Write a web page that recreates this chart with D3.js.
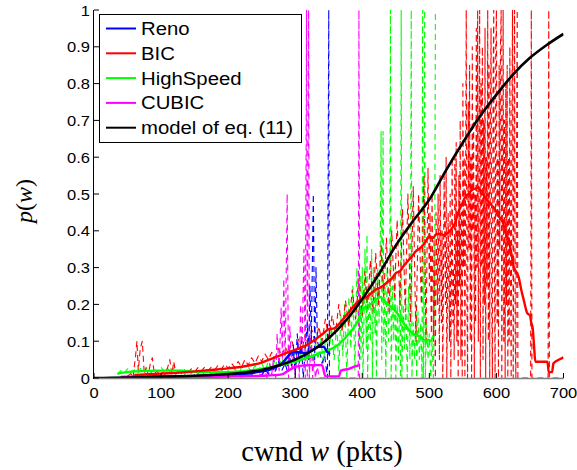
<!DOCTYPE html>
<html><head><meta charset="utf-8">
<script src="https://d3js.org/d3.v7.min.js"></script>
<style>body{margin:0;background:#fff}svg{display:block}</style>
</head><body>
<script>
// ---------- data ----------
const xTicks = [0,100,200,300,400,500,600,700];
const yTicks = [0,0.1,0.2,0.3,0.4,0.5,0.6,0.7,0.8,0.9,1];
const seriesNames = ["Reno","BIC","HighSpeed","CUBIC","model of eq. (11)"];
const seriesColors = ["#0000ff","#ff0000","#00ff00","#ff00ff","#000000"];

const modelW = [0,25,50,75,100,125,150,175,200,225,250,275,300,325,350,375,400,425,450,475,500,525,550,575,600,625,650,675,700];
const modelP = [0,0.0003,0.001,0.002,0.003,0.0045,0.006,0.008,0.011,0.015,0.022,0.034,0.05,0.074,0.108,0.155,0.215,0.283,0.36,0.425,0.485,0.565,0.64,0.71,0.77,0.825,0.87,0.905,0.935];

const renoSmooth = [[40,0.003],[100,0.004],[150,0.005],[200,0.008],[240,0.015],[265,0.025],[280,0.04],[290,0.06],[295,0.07],[305,0.07],[315,0.068],[325,0.075],[335,0.085],[342,0.085],[348,0.07],[352,0.065]];
const bicSmooth = [[60,0.008],[80,0.01],[100,0.012],[125,0.014],[150,0.018],[175,0.022],[200,0.026],[225,0.032],[250,0.042],[267,0.054],[290,0.07],[305,0.08],[318,0.09],[330,0.105],[340,0.118],[350,0.133],[358,0.135],[367,0.15],[375,0.168],[380,0.178],[385,0.19],[392,0.205],[400,0.215],[408,0.222],[414,0.232],[420,0.24],[426,0.245],[432,0.252],[438,0.262],[444,0.27],[450,0.285],[456,0.29],[462,0.305],[468,0.318],[474,0.33],[480,0.345],[486,0.352],[490,0.36],[494,0.37],[500,0.385],[505,0.38],[510,0.39],[516,0.392],[522,0.388],[528,0.395],[533,0.405],[538,0.42],[543,0.45],[548,0.47],[553,0.49],[558,0.5],[563,0.51],[569,0.515],[573,0.518],[576,0.51],[580,0.5],[584,0.49],[590,0.475],[595,0.465],[599,0.455],[603,0.44],[606,0.434],[610,0.42],[613,0.4],[617,0.38],[620,0.36],[623,0.33],[626,0.3],[629,0.29],[633,0.275],[637,0.24],[641,0.21],[646,0.176],[650,0.17],[652,0.15],[654,0.136],[656,0.09],[658,0.044],[676,0.044],[678,0.016],[683,0.016],[685,0.04],[698,0.054],[700,0.056]];
const hsSmooth = [[35,0.012],[60,0.018],[100,0.02],[130,0.02],[160,0.016],[200,0.016],[230,0.02],[260,0.028],[290,0.04],[318,0.055],[342,0.07],[355,0.08],[367,0.095],[380,0.12],[392,0.15],[402,0.19],[412,0.2],[420,0.212],[427,0.22],[435,0.205],[445,0.19],[452,0.176],[458,0.16],[465,0.14],[470,0.13],[476,0.12],[481,0.116],[487,0.112],[491,0.105],[495,0.1],[498,0.104],[501,0.1],[506,0.115]];
const cubicSmooth = [[40,0.002],[100,0.003],[150,0.003],[200,0.004],[250,0.006],[280,0.01],[290,0.02],[300,0.03],[320,0.035],[340,0.035],[345,0.005],[365,0.004],[368,0.02],[380,0.025],[390,0.032],[395,0.035]];

const renoRaw = [[40,0],[50,0.005],[60,0.002],[70,0.006],[80,0.001],[90,0.005],[100,0.002],[110,0.007],[120,0.002],[130,0.006],[140,0.003],[150,0.008],[160,0.003],[170,0.007],[180,0.004],[190,0.009],[200,0.004],[210,0.01],[220,0.006],[230,0.012],[240,0.01],[245,0.02],[250,0.005],[255,0.025],[260,0.01],[265,0.03],[270,0.015],[275,0.045],[280,0.02],[285,0.04],[288,0.02],[291,0.07],[294,0.03],[297,0.09],[300,0.01],[303,0.12],[306,0.04],[309,0.1],[312,0],[315,0.08],[318,0.15],[320,0.05],[322,0.25],[324,0.1],[327,0.5],[329,0.05],[331,0.3],[333,0.1],[336,0.08],[340,0.04],[344,0.06],[348,0],[350,1],[351,0]];
const bicRaw = [[50,0.005],[55,0.012],[58,0],[62,0.06],[64,0.1],[66,0.02],[69,0.08],[72,0.1],[75,0.01],[78,0.03],[81,0.008],[84,0.04],[87,0.055],[90,0.01],[94,0.02],[98,0.008],[102,0.015],[106,0.01],[110,0.03],[113,0.05],[116,0.01],[119,0.045],[122,0.01],[126,0.02],[130,0.012],[135,0.022],[140,0.014],[145,0.025],[150,0.016],[155,0.028],[160,0.018],[165,0.03],[170,0.02],[175,0.03],[180,0.022],[185,0.035],[190,0.024],[195,0.038],[200,0.026],[205,0.04],[210,0.028],[215,0.045],[220,0.03],[225,0.05],[230,0.035],[235,0.055],[240,0.04],[245,0.06],[250,0.045],[255,0.065],[260,0.05],[265,0.07],[270,0.055],[275,0.08],[280,0.06],[285,0.085],[290,0.065],[295,0.1],[300,0.07],[305,0.105],[310,0.075],[315,0.12],[320,0.085],[325,0.13],[330,0.09],[335,0.14],[340,0.1],[345,0.16],[350,0.11],[355,0.17],[360,0.12],[365,0.2],[370,0.13],[375,0.21],[380,0.14],[385,0.24],[390,0.16],[395,0.27],[400,0.17],[404,0.29],[408,0.19],[412,0.32],[416,0.18],[420,0.34],[424,0.2],[428,0.36],[432,0.22],[436,0.38],[440,0.18],[444,0.4],[448,0.22],[452,0.43],[456,0.2],[460,0.46],[464,0.18],[468,0.5],[472,0.15],[476,0.52],[480,0.1],[484,0.5],[488,0.2],[492,0.55],[495,0.1],[498,0.57],[500,0.25],[501,0.45],[503,0.12],[504,0.5],[506,0.1],[507,0.38],[509,0],[510,0.45],[512,0.2],[513,0.5],[515,0.05],[516,0.55],[518,0.15],[519,0.4],[520,0],[522,0.55],[524,0.2],[525,0.6],[526,0],[528,0.45],[530,0.1],[531,0.5],[532,0],[534,0.6],[535,0.15],[536,0.3],[537,0.05],[538,0.6],[539,0.2],[540,0.64],[541,0.1],[542,0.4],[543,0],[544,0.55],[545,0.25],[546,0.7],[547,0.05],[548,0.45],[549,0],[550,0.8],[551,0.3],[552,0.6],[553,0],[554,0.5],[555,1],[556,0.2],[557,0],[558,0.75],[559,0.35],[560,0.85],[561,0.1],[562,0.6],[563,0],[564,0.9],[565,0.4],[566,0.7],[567,0],[568,0.5],[569,0.15],[570,0.95],[571,0.3],[572,1],[573,0.1],[574,0.6],[575,1],[576,0],[577,0.8],[578,0.3],[579,0.9],[580,0.05],[581,0.7],[582,0.2],[583,0.95],[584,0],[585,0.6],[586,0.25],[587,1],[588,0.1],[589,0.85],[590,0],[591,0.7],[592,0.95],[593,0.2],[594,0],[595,0.8],[596,1],[597,0.3],[598,0],[599,0.9],[600,1],[601,0.15],[602,0.6],[603,0],[604,0.85],[605,0.35],[606,0.9],[607,1],[608,0],[609,0.5],[610,1],[611,0.1],[612,0.7],[613,0],[614,0.8],[615,0.2],[616,0.85],[617,0],[618,0.6],[619,0.1],[620,0.9],[621,0.3],[622,0],[623,0.7],[624,1],[625,0],[626,0.5],[627,1],[628,0.1],[629,0],[630,0.6],[631,1],[632,0],[651,0],[652,1],[653,0],[677,0],[678,1],[679,0],[700,0]];
const hsRaw = [[35,0.01],[40,0.02],[45,0.012],[50,0.025],[55,0.015],[60,0.022],[65,0.012],[70,0.028],[75,0.018],[80,0.03],[85,0.014],[90,0.025],[95,0.016],[100,0.03],[105,0.015],[110,0.026],[115,0.012],[120,0.03],[125,0.014],[130,0.024],[135,0.01],[140,0.022],[145,0.012],[150,0.02],[155,0.01],[160,0.022],[165,0.008],[170,0.02],[175,0.01],[180,0.018],[185,0.008],[190,0.022],[195,0.01],[200,0.02],[205,0.012],[210,0.025],[215,0.01],[220,0.028],[225,0.012],[230,0.03],[235,0.015],[240,0.035],[245,0.018],[250,0.04],[255,0.02],[260,0.045],[265,0.022],[270,0.05],[275,0.025],[280,0.055],[285,0.03],[290,0.06],[294,0.035],[298,0.07],[302,0.04],[306,0.075],[310,0.045],[314,0.085],[318,0.05],[322,0.09],[326,0.045],[330,0.1],[334,0.05],[338,0.11],[342,0.04],[346,0.12],[350,0.06],[354,0.14],[358,0.05],[362,0.15],[365,0.02],[368,0.17],[371,0.06],[374,0.2],[377,0],[380,0.22],[383,0.08],[386,0.25],[389,0.02],[392,0.3],[395,0.1],[397,0.28],[398,0.05],[400,0.3],[401,0],[403,0.2],[404,0.35],[406,0.08],[407,0.39],[408,0],[410,0.25],[412,0.1],[414,0.35],[415,0],[417,0.3],[419,0.12],[420,0.28],[421,0],[423,0.3],[425,0.15],[427,0.4],[428,0.67],[429,0.05],[430,0.3],[431,0.67],[432,0.1],[434,0.25],[435,0],[437,0.3],[439,0.1],[441,0.2],[442,1],[443,0],[445,0.25],[447,0.1],[449,0.3],[450,0],[452,0.2],[454,0.05],[456,0.25],[457,0],[458,1],[459,0],[461,0.2],[463,0.08],[465,0.22],[467,0],[469,0.25],[471,0.05],[472,0.3],[473,1],[474,0],[476,0.15],[478,0.05],[480,0.2],[481,0],[483,0.18],[485,0.05],[487,0.15],[489,0],[490,1],[491,0],[492,0.2],[493,1],[494,0],[496,0.15],[498,0.05],[500,0.12],[502,0],[504,0.1],[506,0],[508,0.3],[509,1]];
const cubicRaw = [[40,0.002],[50,0.004],[60,0.003],[70,0.005],[80,0.002],[90,0.004],[100,0.003],[110,0.005],[120,0.002],[130,0.004],[140,0.003],[150,0.005],[160,0.003],[170,0.006],[180,0.002],[190,0.005],[200,0.004],[210,0.007],[220,0.003],[230,0.008],[240,0.005],[250,0.01],[255,0.02],[258,0],[262,0.04],[265,0.01],[268,0.06],[271,0],[273,0.12],[276,0.02],[279,0.19],[281,0.05],[283,0.27],[285,0.03],[288,0.5],[290,0],[292,0.14],[295,0.02],[298,0.08],[300,0],[302,0.06],[304,0.1],[306,0],[308,0.2],[310,0.05],[313,0.35],[315,0],[317,1],[318,0],[320,1],[321,0],[324,0.12],[326,0],[328,0.06],[330,0],[333,0.03],[336,0],[394,0],[395,1],[396,0]];

// ---------- layout ----------
const W = 577, H = 470;
const svg = d3.select("body").append("svg").attr("width", W).attr("height", H);
const x = d3.scaleLinear().domain([0,700]).range([94,563.5]);
const y = d3.scaleLinear().domain([0,1]).range([378,10]);

svg.append("clipPath").attr("id","clip").append("rect")
  .attr("x", x(0)).attr("y", y(1)).attr("width", x(700)-x(0)).attr("height", y(0)-y(1)+1);

const plot = svg.append("g").attr("clip-path","url(#clip)");
const lineRaw = d3.line().x(d=>x(d[0])).y(d=>y(d[1]));
const lineSmooth = d3.line().x(d=>x(d[0])).y(d=>y(d[1])).curve(d3.curveMonotoneX);

const raws = [[hsRaw,"#00ff00"],[bicRaw,"#ff0000"],[cubicRaw,"#ff00ff"],[renoRaw,"#0000ff"]];
raws.forEach(([data,c]) => {
  plot.append("path").attr("d", lineRaw(data)).attr("fill","none")
    .attr("stroke", c).attr("stroke-width",1.1).attr("stroke-dasharray","6,4")
    .attr("stroke-linejoin","round");
});

// x axis line (under solids)
svg.append("line").attr("x1",x(0)).attr("x2",x(700)).attr("y1",y(0)+0.5).attr("y2",y(0)+0.5)
  .attr("stroke","#808080").attr("stroke-width",1.6);

const smooths = [[hsSmooth,"#00ff00"],[renoSmooth,"#0000ff"],[cubicSmooth,"#ff00ff"],[bicSmooth,"#ff0000"]];
smooths.forEach(([data,c]) => {
  plot.append("path").attr("d", lineSmooth(data)).attr("fill","none")
    .attr("stroke", c).attr("stroke-width",2.4).attr("stroke-linejoin","round");
});
plot.append("path").attr("d", lineSmooth(modelW.map((w,i)=>[w,modelP[i]]))).attr("fill","none")
  .attr("stroke","#000").attr("stroke-width",2.6);

// axes
const axG = svg.append("g");
axG.append("line").attr("x1",x(0)-0.5).attr("x2",x(0)-0.5).attr("y1",y(1)).attr("y2",y(0)+1)
  .attr("stroke","#000").attr("stroke-width",1);
xTicks.forEach(t => {
  axG.append("line").attr("x1",x(t)).attr("x2",x(t)).attr("y1",y(0)).attr("y2",y(0)-5)
    .attr("stroke","#000").attr("stroke-width",1);
  axG.append("text").attr("transform",`translate(${x(t)},${y(0)+20}) scale(1.1,1)`)
    .attr("text-anchor","middle").attr("font-family","Liberation Sans, Arial, sans-serif")
    .attr("font-size",15).text(d3.format("d")(t));
});
yTicks.forEach(t => {
  axG.append("line").attr("x1",x(0)).attr("x2",x(0)+5).attr("y1",y(t)).attr("y2",y(t))
    .attr("stroke","#000").attr("stroke-width",1);
  axG.append("text").attr("transform",`translate(${x(0)-4},${y(t)+5.5}) scale(1.1,1)`)
    .attr("text-anchor","end").attr("font-family","Liberation Sans, Arial, sans-serif")
    .attr("font-size",15).text(t===0?"0":(t===1?"1":d3.format(".1f")(t)));
});

// axis labels
const xl = svg.append("text").attr("transform","translate(322,461)")
  .attr("text-anchor","middle").attr("font-family","Liberation Serif, Times New Roman, serif")
  .attr("font-size",28.5);
xl.append("tspan").text("cwnd ");
xl.append("tspan").attr("font-style","italic").text("w");
xl.append("tspan").text(" (pkts)");

const yl = svg.append("text").attr("transform","translate(32,201) rotate(-90)")
  .attr("text-anchor","middle").attr("font-family","Liberation Serif, Times New Roman, serif")
  .attr("font-size",24);
yl.append("tspan").attr("font-style","italic").text("p");
yl.append("tspan").text("(");
yl.append("tspan").attr("font-style","italic").text("w");
yl.append("tspan").text(")");

// legend
const lg = svg.append("g");
lg.append("rect").attr("x",99.5).attr("y",14.5).attr("width",202).attr("height",128)
  .attr("fill","#fff").attr("stroke","#000").attr("stroke-width",1);
seriesNames.forEach((n,i) => {
  const yy = 28.5 + i*24.8;
  lg.append("line").attr("x1",106).attr("x2",136).attr("y1",yy).attr("y2",yy)
    .attr("stroke",seriesColors[i]).attr("stroke-width",2);
  lg.append("text").attr("transform",`translate(141,${yy+6.5}) scale(1.13,1)`)
    .attr("font-family","Liberation Sans, Arial, sans-serif").attr("font-size",18).text(n);
});
</script>
</body></html>
